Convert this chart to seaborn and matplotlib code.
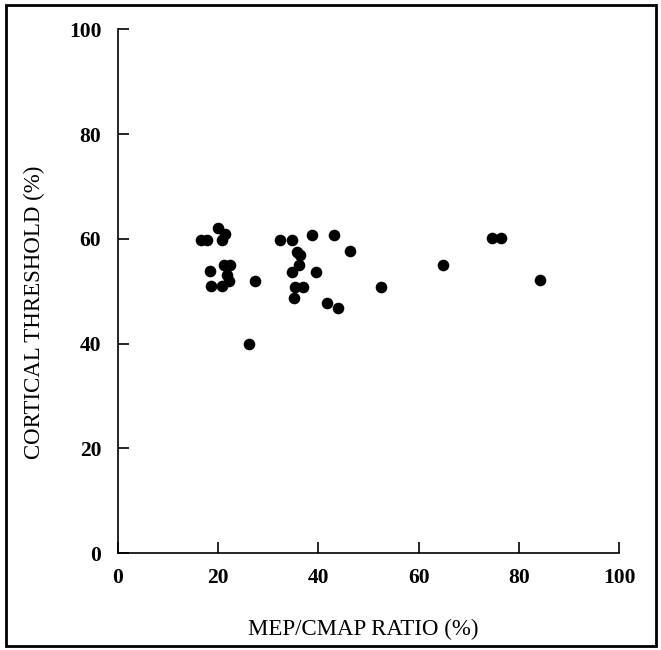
import seaborn as sns
import matplotlib.pyplot as plt
import pandas as pd
from matplotlib.patches import Rectangle

# data
mep_cmap_ratio = [16.6, 17.8, 19.9, 21.4, 20.7, 18.3, 18.6,
                  21.2, 22.4, 21.8, 22.2, 20.8, 27.3, 26.1,
                  32.4, 34.7, 38.7, 43.1, 46.3, 35.7, 36.4, 36.1,
                  34.7, 39.5, 35.4, 36.9, 35.1, 41.7, 43.9, 52.5,
                  64.8, 74.7, 76.5, 84.3]
cortical_threshold = [59.8, 59.8, 62.0, 60.9, 59.8, 53.9, 51.0,
                      55.0, 55.0, 53.0, 52.0, 51.0, 51.9, 40.0,
                      59.8, 59.8, 60.7, 60.7, 57.7, 57.5, 56.9, 55.0,
                      53.7, 53.7, 50.8, 50.8, 48.7, 47.8, 46.7, 50.8,
                      55.0, 60.1, 60.1, 52.2]
x_ticks = [0, 20, 40, 60, 80, 100]
y_ticks = [0, 20, 40, 60, 80, 100]

df = pd.DataFrame({'ratio': mep_cmap_ratio, 'threshold': cortical_threshold})

sns.set_style('ticks')
plt.rcParams['font.family'] = ['Liberation Serif', 'DejaVu Serif']
plt.rcParams['text.color'] = 'black'
plt.rcParams['axes.labelcolor'] = 'black'

fig = plt.figure(figsize=(6.61, 6.5), dpi=100)
ax = fig.add_axes([0.1785, 0.149, 0.758, 0.806])

sns.scatterplot(x='ratio', y='threshold', data=df, ax=ax, color='black',
                s=70, edgecolor='black', linewidth=0)

ax.set_xlim(0, 100)
ax.set_ylim(0, 100)
ax.set_xticks(x_ticks)
ax.set_yticks(y_ticks)
ax.tick_params(direction='in', length=8, width=1.2, labelsize=15.5, colors='black')
ax.tick_params(axis='y', pad=12)
ax.tick_params(axis='x', pad=11)
for lbl in ax.get_xticklabels() + ax.get_yticklabels():
    lbl.set_fontweight('bold')

for side in ['top', 'right']:
    ax.spines[side].set_visible(False)
for side in ['left', 'bottom']:
    ax.spines[side].set_linewidth(1.2)
    ax.spines[side].set_color('black')

ax.set_xlabel('MEP/CMAP RATIO (%)', fontsize=16.5, labelpad=22)
ax.set_ylabel('CORTICAL THRESHOLD (%)', fontsize=16.5, labelpad=17)
ax.xaxis.label.set_x(0.49)
ax.yaxis.label.set_y(0.46)

# outer frame around the whole figure
fig.add_artist(Rectangle((0.009, 0.006), 0.984, 0.986, transform=fig.transFigure,
                         fill=False, edgecolor='black', linewidth=2))

fig.savefig('out.png', dpi=100)
